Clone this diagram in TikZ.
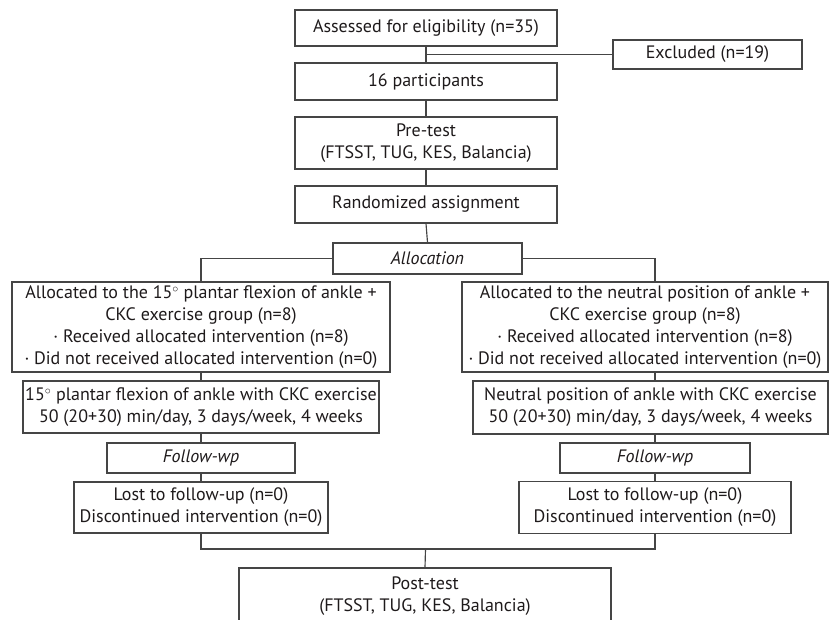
\documentclass[tikz,border=0pt]{standalone}
\usepackage{fontspec}
\setmainfont{PT Sans}
\definecolor{txt}{HTML}{1E1A1B}
\definecolor{ln}{HTML}{454545}
\begin{document}
\begin{tikzpicture}[x=1pt,y=-1pt,
  box/.style={draw=ln, line width=1.15pt, rectangle, inner sep=0pt, align=center,
    text=txt, font=\fontsize{18}{22}\selectfont},
  conn/.style={draw=ln, line width=1.15pt}]
\useasboundingbox (0,0) rectangle (829,619);
% top column
\node[box, minimum width=262, minimum height=36] (assess) at (426,28) {Assessed for eligibility (n=35)};
\node[box, minimum width=189, minimum height=29] (excl) at (707.5,54.5) {Excluded (n=19)};
\node[box, minimum width=262, minimum height=37] (part) at (426,81.5) {16 participants};
\node[box, minimum width=262, minimum height=52] (pre) at (426,143) {Pre-test\\(FTSST, TUG, KES, Balancia)};
\node[box, minimum width=262, minimum height=37] (rand) at (426,204.5) {Randomized assignment};
\node[box, minimum width=189, minimum height=31] (alloc) at (427.5,258.5) {\itshape Allocation};
% left column
\node[box, minimum width=378, minimum height=90] (L1) at (201,327) {Allocated to the 15$^{\circ}$ plantar flexion of ankle +\\CKC exercise group (n=8)\\· Received allocated intervention (n=8)\\· Did not received allocated intervention (n=0)};
\node[box, minimum width=356, minimum height=52] (L2) at (201,407) {15$^{\circ}$ plantar flexion of ankle with CKC exercise\\50 (20+30) min/day, 3 days/week, 4 weeks};
\node[box, minimum width=188, minimum height=30] (LF) at (201,458) {\itshape Follow-wp};
\node[box, minimum width=254, minimum height=51] (LL) at (201,507.5) {Lost to follow-up (n=0)\\Discontinued intervention (n=0)};
% right column
\node[box, minimum width=366, minimum height=90] (R1) at (645,327) {Allocated to the neutral position of ankle +\\CKC exercise group (n=8)\\· Received allocated intervention (n=8)\\· Did not received allocated intervention (n=0)};
\node[box, minimum width=355, minimum height=53] (R2) at (650.5,407.5) {Neutral position of ankle with CKC exercise\\50 (20+30) min/day, 3 days/week, 4 weeks};
\node[box, minimum width=190, minimum height=30] (RF) at (655,458) {\itshape Follow-wp};
\node[box, minimum width=272, minimum height=52] (RL) at (655,507.5) {Lost to follow-up (n=0)\\Discontinued intervention (n=0)};
% bottom
\node[box, minimum width=372, minimum height=56] (post) at (425,596) {Post-test\\(FTSST, TUG, KES, Balancia)};
% helper coordinates
\coordinate (rx) at (655,0);
\coordinate (mj) at (425.5,549);
% connectors
\draw[conn] (assess.south) -- (part.north);
\draw[conn] (assess.south |- excl.west) -- (excl.west);
\draw[conn] (part.south) -- (pre.north);
\draw[conn] (pre.south) -- (rand.north);
\draw[conn] (rand.south) -- (alloc.north);
\draw[conn] (alloc.west) -| (L1.north);
\draw[conn] (alloc.east) -| (rx |- R1.north);
\draw[conn] (L1.south) -- (L2.north);
\draw[conn] (L2.south) -- (LF.north);
\draw[conn] (LF.south) -- (LL.north);
\draw[conn] (rx |- R1.south) -- (rx |- R2.north);
\draw[conn] (rx |- R2.south) -- (RF.north);
\draw[conn] (RF.south) -- (RL.north);
\draw[conn] (LL.south) |- (RL.south |- mj) -- (RL.south);
\draw[conn] (mj) -- (post.north);
\end{tikzpicture}
\end{document}
